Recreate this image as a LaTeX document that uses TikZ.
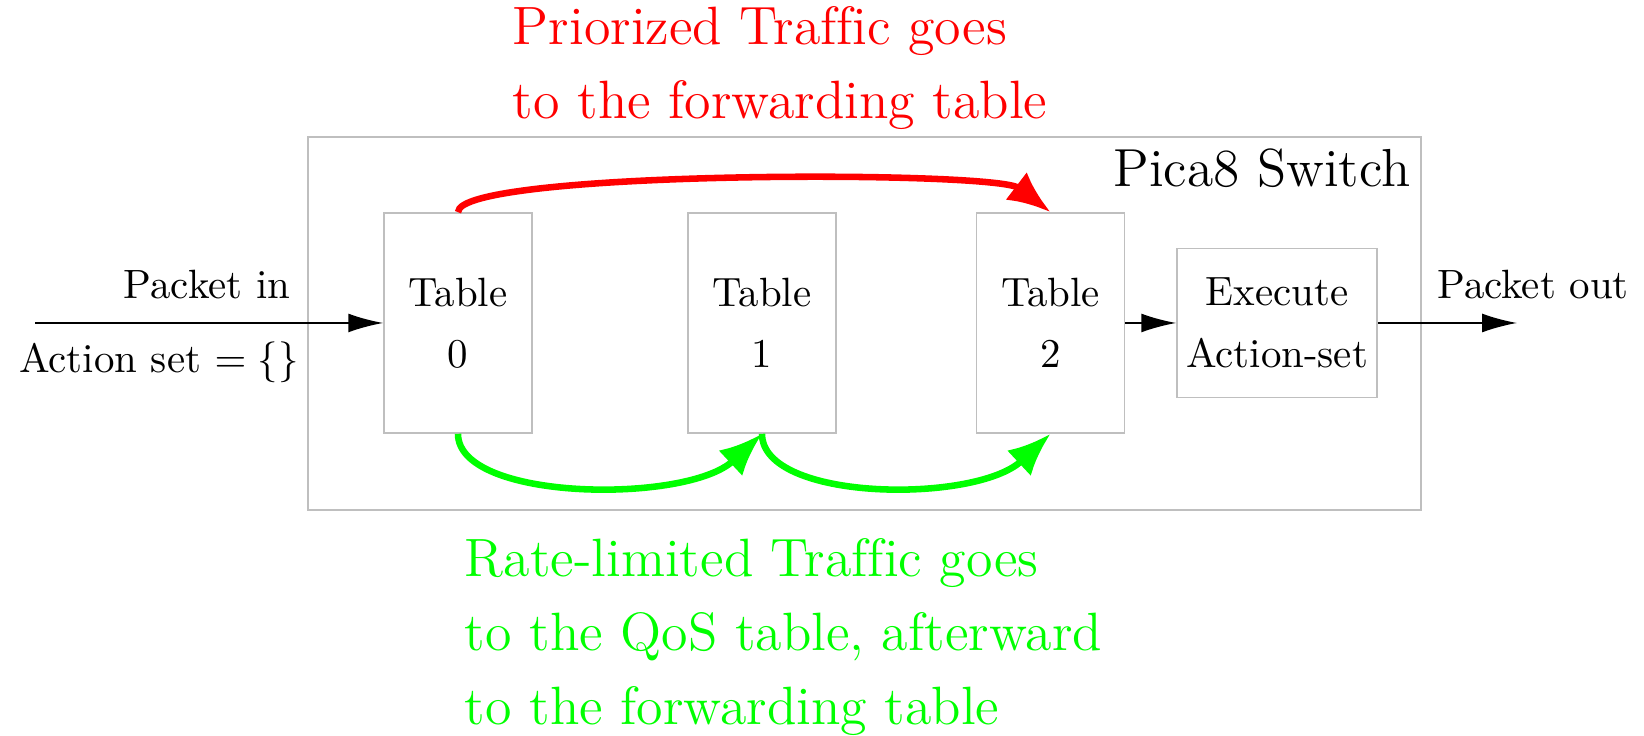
\documentclass[tikz,border=0pt]{standalone}
\usetikzlibrary{arrows.meta}
\begin{document}
\begin{tikzpicture}[x=0.2445pt,y=-0.2445pt,
  box/.style={draw=black!25,line width=0.4pt,inner sep=0pt,align=center,
    font=\fontsize{10}{15}\selectfont},
  tablebox/.style={box,minimum width=148*0.2445pt,minimum height=220*0.2445pt},
  flow/.style={line width=0.4pt,-{Latex[length=8.5pt,width=4.6pt]}},
  route/.style={line width=1.6pt,-{Latex[length=10.5pt,width=8.5pt]}},
  note/.style={align=left,anchor=west,inner sep=0pt,font=\fontsize{13.2}{18.1}\selectfont}]
\useasboundingbox (0,0) rectangle (1644,736);

% switch frame
\node[draw=black!25,line width=0.4pt,minimum width=1113*0.2445pt,minimum height=373*0.2445pt,inner sep=0pt] (sw) at (864.5,323.5) {};
\node[anchor=east,inner sep=0pt,font=\fontsize{13.1}{15}\selectfont] (swlabel) at (1411,168) {Pica8 Switch};

% pipeline tables
\node[tablebox] (t0) at (458,323) {Table\\0};
\node[tablebox] (t1) at (762,323) {Table\\1};
\node[tablebox] (t2) at (1050.5,323) {Table\\2};
\node[box,minimum width=200*0.2445pt,minimum height=149*0.2445pt] (ex) at (1277,323) {Execute\\Action-set};

% packet path
\coordinate (pin) at (35,323);
\coordinate (pout) at (1517,323);
\draw[flow] (pin) -- (t0);
\draw[flow] (t2) -- (ex);
\draw[flow] (ex) -- (pout);
\node[inner sep=0pt] (lin) at (207,285) {Packet in};
\node[inner sep=0pt] (lact) at (159,362) {Action set $=\{\}$};
\node[inner sep=0pt] (lout) at (1533,285) {Packet out};

% priority and rate-limited routes
\draw[route,red] (t0.north) .. controls +(0,-42) and +(-55,-42) .. (t2.north);
\draw[route,green] (t0.south) .. controls +(0,68) and +(-75,70) .. (t1.south);
\draw[route,green] (t1.south) .. controls +(0,68) and +(-75,70) .. (t2.south);

\node[note,text=red] (rednote) at (512,68) {Priorized Traf\kern0pt f\kern0pt ic goes\\to the forwarding table};
\node[note,text=green] (greennote) at (464,637) {Rate-limited Traf\kern0pt f\kern0pt ic goes\\to the QoS table, afterward\\to the forwarding table};
\end{tikzpicture}
\end{document}
